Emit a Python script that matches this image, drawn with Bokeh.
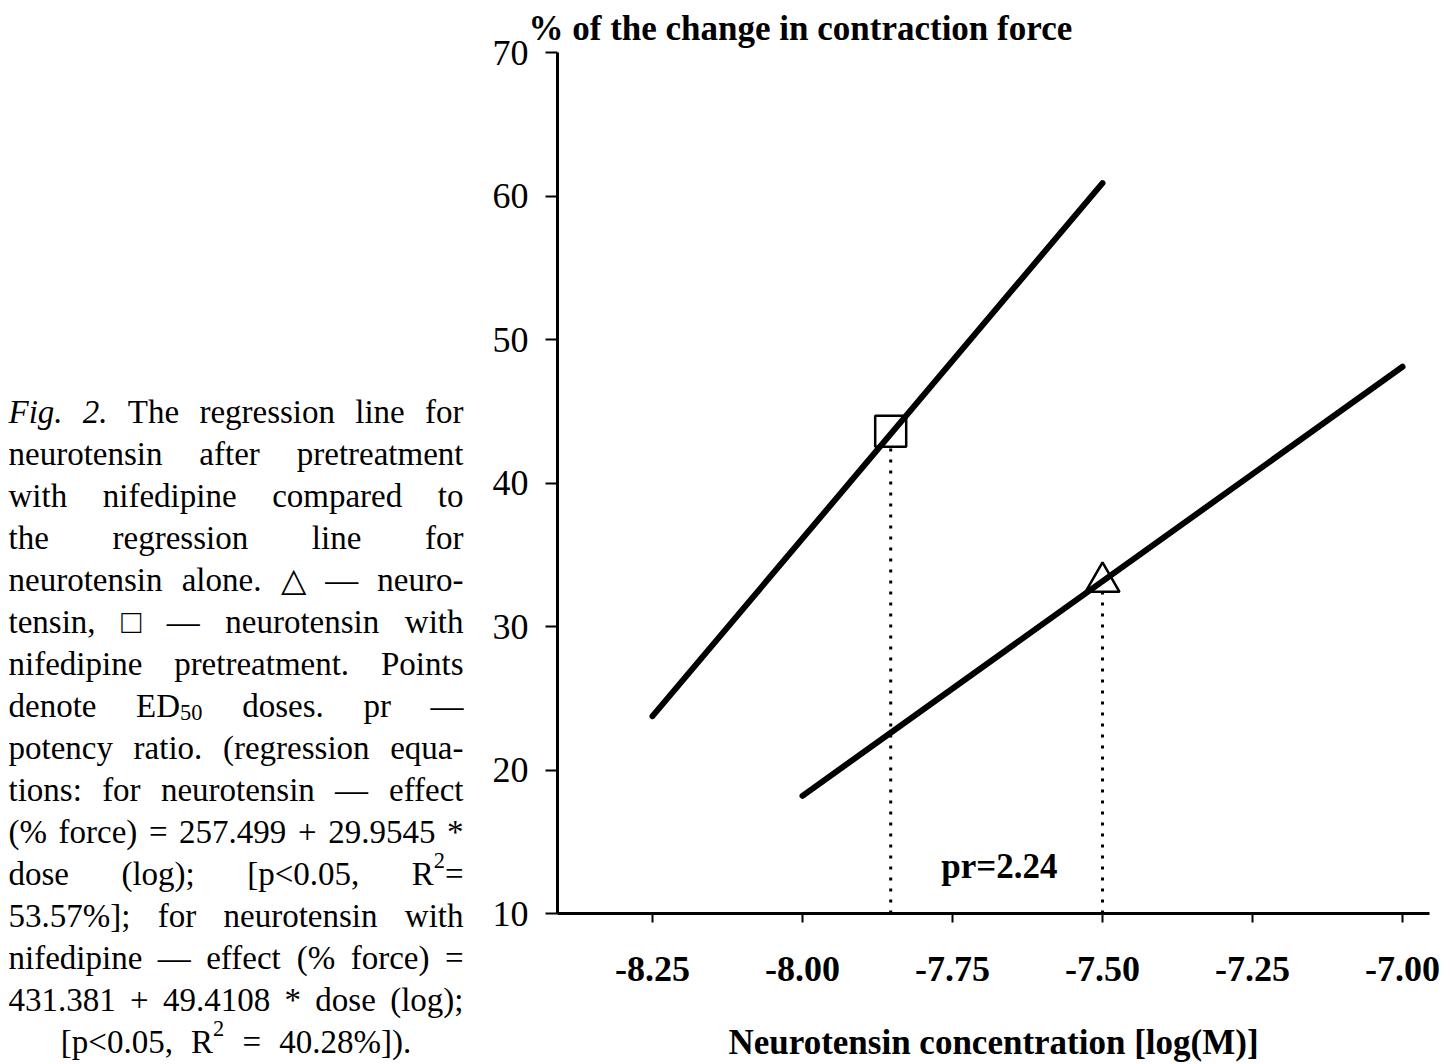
from bokeh.plotting import figure
from bokeh.models import Range1d, FixedTicker, Label
from bokeh.layouts import row
from bokeh.embed import file_html
from bokeh.resources import INLINE

# ---------------- data ----------------
nif_dose = [-8.25, -7.50]          # neurotensin with nifedipine pretreatment
nif_effect = [23.75, 60.9]
nt_dose = [-8.00, -7.00]           # neurotensin alone
nt_effect = [18.2, 48.1]
ed50_square_dose = [-7.853]
ed50_square_effect = [43.6]
ed50_triangle_dose = [-7.50]
ed50_triangle_effect = [33.1]
x_ticks = [-8.25, -8.00, -7.75, -7.50, -7.25, -7.00]
x_tick_labels = ["-8.25", "-8.00", "-7.75", "-7.50", "-7.25", "-7.00"]
y_ticks = [10, 20, 30, 40, 50, 60, 70]
y_tick_labels = ["10", "20", "30", "40", "50", "60", "70"]
title_text = "% of the change in contraction force"
x_label_text = "Neurotensin concentration [log(M)]"
potency_text = "pr=2.24"
potency_pos = [-7.672, 13.3]
caption_lines = [
    "~Fig. ~2. The regression line for",
    "neurotensin after pretreatment",
    "with nifedipine compared to",
    "the regression line for",
    "neurotensin alone. \u25b3 \u2014 neuro-",
    "tensin, \u25a1 \u2014 neurotensin with",
    "nifedipine pretreatment. Points",
    "denote ED_50 doses. pr \u2014",
    "potency ratio. (regression equa-",
    "tions: for neurotensin \u2014 effect",
    "(% force) = 257.499 + 29.9545 *",
    "dose (log); [p<0.05, R^2=",
    "53.57%]; for neurotensin with",
    "nifedipine \u2014 effect (% force) =",
    "431.381 + 49.4108 * dose (log);",
    "[p<0.05, R^2 = 40.28%]).",
]

FONT = "Liberation Serif"

# ---------------- geometry (page pixels) ----------------
TOTAL_W, H = 1444, 1064
CAP_W = 478                                  # caption panel width
W = TOTAL_W - CAP_W                          # chart figure width
FL, FR, FT, FB = 557 - CAP_W, 1429 - CAP_W, 52, 916  # frame edges inside chart figure
Y0, Y1 = 10, 70
PPX = 600.0                                  # pixels per log unit
X0 = -8.25 - (652 - 557) / PPX
X1 = X0 + (FR - FL) / PPX

p = figure(width=W, height=H, x_range=Range1d(X0, X1), y_range=Range1d(Y0, Y1),
           output_backend="svg", toolbar_location=None,
           min_border_left=FL, min_border_right=W - FR,
           min_border_top=FT, min_border_bottom=H - FB)
p.frame_align = False
p.outline_line_color = None
p.xgrid.visible = False
p.ygrid.visible = False
p.background_fill_color = "white"
p.border_fill_color = "white"

# y-axis name written as the title, starting left of the axis
p.title.text = title_text
p.title.text_font = FONT
p.title.text_font_size = "35px"
p.title.text_font_style = "bold"
p.title.text_color = "black"
p.title.align = "left"
p.title.offset = 528 - 557
p.title.standoff = 10

# x axis
xa = p.xaxis[0]
xa.ticker = FixedTicker(ticks=x_ticks, minor_ticks=[])
xa.major_label_overrides = {t: l for t, l in zip(x_ticks, x_tick_labels)}
xa.axis_line_width = 3
xa.axis_line_color = "black"
xa.major_tick_line_width = 2
xa.major_tick_out = 9
xa.major_tick_in = 0
xa.minor_tick_out = 0
xa.minor_tick_in = 0
xa.major_label_text_font = FONT
xa.major_label_text_font_size = "36px"
xa.major_label_text_font_style = "bold"
xa.major_label_text_color = "black"
xa.major_label_standoff = 34
xa.axis_label = x_label_text
xa.axis_label_text_font = FONT
xa.axis_label_text_font_size = "35px"
xa.axis_label_text_font_style = "bold"
xa.axis_label_text_color = "black"
xa.axis_label_standoff = 39

# y axis
ya = p.yaxis[0]
ya.ticker = FixedTicker(ticks=y_ticks, minor_ticks=[])
ya.major_label_overrides = {t: l for t, l in zip(y_ticks, y_tick_labels)}
ya.axis_line_width = 3
ya.axis_line_color = "black"
ya.major_tick_line_width = 2
ya.major_tick_out = 12
ya.major_tick_in = 0
ya.minor_tick_out = 0
ya.minor_tick_in = 0
ya.major_label_text_font = FONT
ya.major_label_text_font_size = "36px"
ya.major_label_text_color = "black"
ya.major_label_standoff = 17

# dotted drop lines from ED50 points
p.segment(x0=ed50_square_dose, y0=[Y0], x1=ed50_square_dose, y1=ed50_square_effect,
          line_color="black", line_width=3, line_dash="3 8")
p.segment(x0=ed50_triangle_dose, y0=[Y0], x1=ed50_triangle_dose, y1=ed50_triangle_effect,
          line_color="black", line_width=3, line_dash="3 8")

# ED50 markers
p.scatter(ed50_square_dose, ed50_square_effect, marker="square", size=31,
          fill_color="white", line_color="black", line_width=2.5)
p.scatter(ed50_triangle_dose, ed50_triangle_effect, marker="triangle", size=34,
          fill_color="white", line_color="black", line_width=2.5)

# regression lines
p.line(nif_dose, nif_effect, line_color="black", line_width=6, line_cap="round")
p.line(nt_dose, nt_effect, line_color="black", line_width=6, line_cap="round")

# potency ratio
p.add_layout(Label(x=potency_pos[0], y=potency_pos[1], text=potency_text, text_font=FONT,
                   text_font_size="35px", text_font_style="bold",
                   text_align="center", text_baseline="alphabetic", text_color="black"))

# ---------------- caption panel (justified, word by word) ----------------
cap = figure(width=CAP_W, height=H, x_range=Range1d(0, CAP_W), y_range=Range1d(H, 0),
             output_backend="svg", toolbar_location=None,
             x_axis_type=None, y_axis_type=None,
             min_border_left=0, min_border_right=0, min_border_top=0, min_border_bottom=0)
cap.frame_align = False
cap.outline_line_color = None
cap.xgrid.visible = False
cap.ygrid.visible = False
cap.background_fill_color = "white"
cap.border_fill_color = "white"

FS = 33
WID = {" ": 250, "%": 833, "(": 333, ")": 333, "*": 500, "+": 564, ",": 250, "-": 333,
       ".": 250, ":": 278, ";": 278, "<": 564, "=": 564, "[": 333, "]": 333,
       "\u2014": 1000, "\u25b3": 770, "\u25a1": 604,
       "D": 722, "E": 611, "F": 556, "P": 556, "R": 667, "T": 611,
       "a": 444, "b": 500, "c": 444, "d": 500, "e": 444, "f": 333, "g": 500, "h": 500,
       "i": 278, "j": 278, "k": 500, "l": 278, "m": 778, "n": 500, "o": 500, "p": 500,
       "q": 500, "r": 333, "s": 389, "t": 278, "u": 500, "v": 500, "w": 722, "x": 500,
       "y": 500, "z": 444}
for d in "0123456789":
    WID[d] = 500
WID_I = dict(WID)
WID_I["F"] = 611


def segments(word):
    if word.startswith("~"):
        return [(word[1:], "i")]
    segs, buf, i = [], "", 0
    while i < len(word):
        c = word[i]
        if c in "_^":
            if buf:
                segs.append((buf, "n"))
                buf = ""
            j = i + 1
            while j < len(word) and word[j].isdigit():
                j += 1
            segs.append((word[i + 1:j], "sub" if c == "_" else "sup"))
            i = j
            continue
        buf += c
        i += 1
    if buf:
        segs.append((buf, "n"))
    return segs


def seg_size(style):
    return FS * 0.68 if style in ("sub", "sup") else FS


def seg_width(text, style):
    table = WID_I if style == "i" else WID
    return sum(table.get(ch, 600) for ch in text) / 1000.0 * seg_size(style)


LEFT, RIGHT = 8, 463
BASE0, LEAD = 411, 42.0
for li, line in enumerate(caption_lines):
    words = line.split(" ")
    segs = [segments(w) for w in words]
    wws = [sum(seg_width(t, s) for t, s in sg) for sg in segs]
    base = BASE0 + li * LEAD
    last = li == len(caption_lines) - 1
    if last:
        gap = FS * 0.55
        total = sum(wws) + gap * (len(words) - 1)
        sx = (LEFT + RIGHT) / 2 - total / 2
    else:
        gap = (RIGHT - LEFT - sum(wws)) / (len(words) - 1)
        sx = LEFT
    for wi, sg in enumerate(segs):
        right_align = (not last) and wi == len(segs) - 1 and len(sg) == 1
        cx = sx
        for t, s in sg:
            sy = base
            if s == "sub":
                sy = base + FS * 0.22
            elif s == "sup":
                sy = base - FS * 0.4
            cap.add_layout(Label(
                x=RIGHT if right_align else cx, y=sy, text=t,
                text_font=FONT, text_font_size=f"{seg_size(s):.1f}px",
                text_font_style="italic" if s == "i" else "normal",
                text_align="right" if right_align else "left",
                text_baseline="alphabetic", text_color="black"))
            cx += seg_width(t, s)
        sx += wws[wi] + gap

layout = row(cap, p)
layout.spacing = 0
open("out.html", "w").write(file_html(layout, INLINE))
